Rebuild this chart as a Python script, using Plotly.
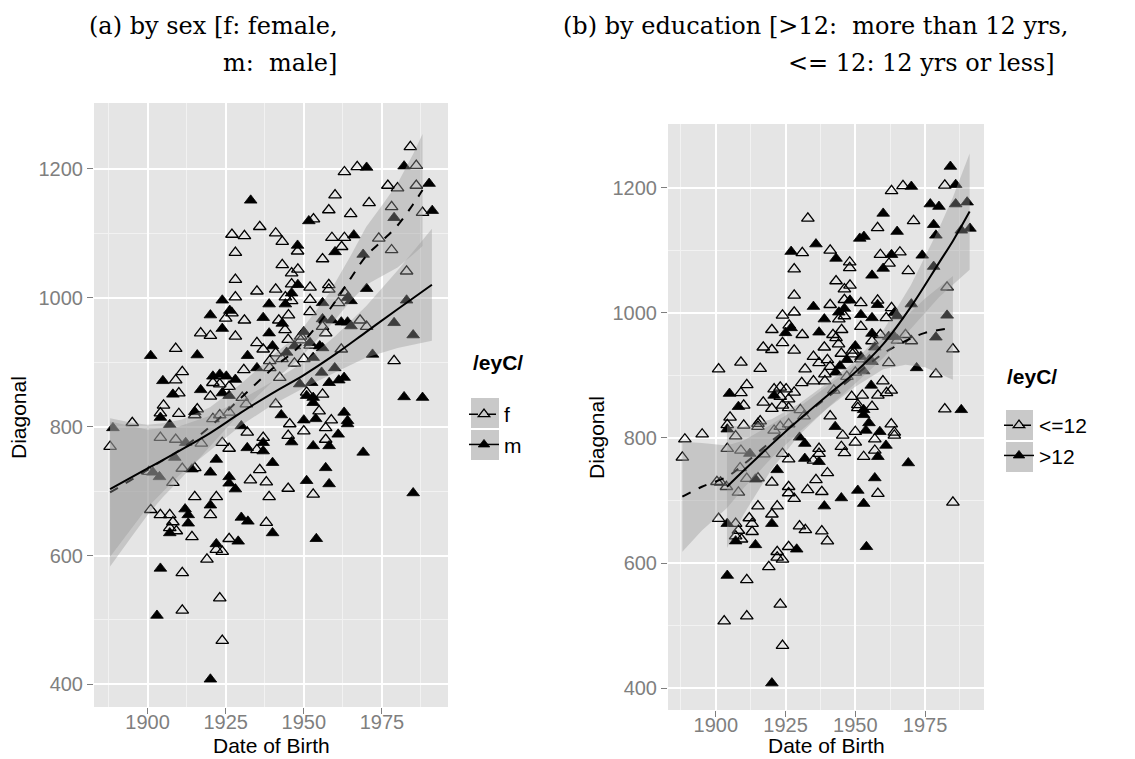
import plotly.graph_objects as go

# ---------------- data ----------------
birth_year = [1933.0,1935.9,1927.0,1931.0,1941.0,1943.1,1948.0,1948.0,1928.1,1943.1,1946.1,1948.1,1928.1,1946.1,1948.1,1935.0,1941.0,1923.9,1928.1,1944.1,
              1946.1,1946.1,1938.9,1944.1,1920.1,1926.3,1927.0,1925.0,1937.0,1931.0,1942.0,1943.1,1945.1,1923.9,1938.9,1917.0,1920.1,1928.1,1909.0,1951.6,
              1984.1,1982.1,1986.0,1963.0,1967.1,1970.1,1976.9,1980.0,1986.0,1990.1,1960.0,1970.9,1958.0,1965.0,1953.1,1978.1,1978.9,1988.0,1991.1,1959.0,
              1963.0,1966.0,1962.1,1960.0,1974.0,1978.1,1969.0,1956.0,1982.9,1952.0,1958.0,1958.0,1970.1,1952.0,1956.0,1961.1,1963.0,1965.1,1964.0,1982.9,
              1952.0,1956.0,1959.0,1962.0,1964.0,1968.0,1970.1,1965.1,1956.0,1957.0,1978.9,1985.0,1952.0,1956.0,1962.0,1952.0,1955.1,1972.0,1978.9,1953.0,
              1955.7,1959.9,1958.1,1961.2,1962.9,1952.5,1950.9,1956.0,1950.9,1953.0,1953.0,1982.1,1988.0,1954.9,1962.9,1953.8,1958.8,1964.0,1964.0,1950.0,
              1957.0,1950.0,1961.0,1957.0,1953.0,1958.1,1969.0,1957.0,1950.9,1958.1,1953.0,1985.0,1954.0,1901.0,1915.9,1930.8,1935.0,1939.1,1941.0,1944.5,
              1911.1,1909.0,1904.9,1920.9,1923.1,1925.2,1928.1,1920.9,1923.1,1926.1,1923.9,1926.1,1908.1,1910.0,1917.0,1920.1,1905.1,1904.1,1904.1,1910.0,
              1915.1,1915.9,1915.1,1907.1,1895.1,1888.9,1888.0,1904.1,1909.0,1912.2,1917.2,1923.9,1926.1,1930.0,1931.9,1931.9,1937.0,1937.0,1937.0,1935.0,
              1940.0,1935.9,1938.0,1932.9,1938.9,1945.0,1942.8,1945.5,1945.0,1946.1,1941.0,1938.0,1940.0,1926.1,1929.0,1930.0,1932.1,1922.0,1920.1,1926.1,
              1926.1,1928.1,1922.0,1920.1,1920.1,1914.2,1915.1,1911.1,1908.1,1915.1,1901.0,1904.1,1907.1,1912.0,1913.0,1913.0,1908.1,1907.1,1907.1,1909.2,
              1914.2,1922.0,1922.0,1923.9,1919.0,1904.1,1911.1,1903.0,1911.1,1923.1,1923.9,1920.1,1920.9,1923.1,1926.1,1930.3,1931.6,1901.7,1903.8,1908.7,
              1900.4,1939.1,1942.3,1948.7,1945.0,1947.0,1949.0,1944.0,1940.0,1943.0,1947.0,1950.0,1937.0,1932.0,1935.0,1949.0,1950.0]
diagonal = [1151,1110,1098,1096,1100,1087,1081,1072,1070,1051,1038,1044,1028,1021,1020,1010,1013,996,1001,1001,
            1007,995,990,990,973,980,976,968,969,965,965,960,973,952,945,945,941,940,921,1119,
            1234,1204,1205,1195,1203,1202,1174,1170,1174,1177,1159,1147,1136,1130,1122,1141,1124,1132,1135,1093,
            1093,1097,1079,1071,1092,1074,1067,1060,1041,1016,1020,1013,1014,997,992,992,1008,995,1000,996,
            978,967,965,962,962,965,955,956,955,945,961,942,930,922,920,926,925,912,902,907,
            884,891,868,872,876,868,853,850,848,845,837,846,845,824,822,812,810,809,804,810,
            798,793,788,780,770,770,760,736,716,711,695,697,626,910,911,888,891,891,914,915,
            885,872,871,878,881,878,873,868,866,862,852,848,850,852,857,847,833,821,814,820,
            823,827,818,803,806,798,769,783,780,775,774,775,766,801,791,767,783,775,762,764,
            744,733,714,717,691,704,818,804,786,776,835,651,635,626,622,659,653,749,729,722,
            712,703,691,678,663,734,736,735,713,691,671,663,663,672,663,650,652,643,635,638,
            629,618,609,606,594,580,573,507,515,534,468,408,812,818,822,845,835,729,722,752,
            730,902,876,866,935,925,940,950,925,905,898,905,920,910,930,934,947]
# f = female (open), m = male (filled)
sex = list("mfffffmfff" "ffffmffmff" "mfmmmmffmf" "fmfmmffffm"
           "fmfffmfffm" "ffffffmfmf" "fmfmffmfff" "ffmfmffmmm" "fmmmmffmff"
           "mmmmffmmfm" "mmmmmmffmm" "mmmfmmfmmm" "ffmfmmmmmm" "fmmmmfmffm"
           "ffmmmmmfff" "mmmfmfffmf" "mffmfmfffm" "fffmfmfmmf" "mfffffmffm"
           "ffmfmmm" "mmmmmfmfmf" "ffffffmmmf" "fmffmfffmf" "mfffmfffff"
           "mmmfffm" "fmffmffffmffm")
# L = 12 yrs or less (open), H = more than 12 yrs (filled)
educ = list("LHHLLHLLLL" "LLLLHHLLLH" "HLHLLLHHHL" "LLLLLLLLLH"
            "HLHLLHHHHH" "HLLHHHHHHL" "HLLHHHLHLL" "LHHHHLLHHH" "LHLHHLLLLH"
            "HLHHLLHHLH" "HLLLLLLLLH" "HLHHLHHLLL" "LLHLLHHHHL" "HLHLLLLLLH"
            "LLHLLLLHLL" "LLHLLLLLHL" "LLLLLLLLLH" "LLLHHHLLHL" "LLLLHHHLLL"
            "LLLLHLL" "HLLLLLLHHL" "LLLLHLLLLL" "LHLHLLLLHL" "LLLLHLLLLL"
            "LLLLLLL" "LHLLLHLLLLLLH")

# smooth fits (loess with 95% band)
# panel (a): by sex
fit_f_x  = [1888, 1895, 1900, 1905, 1911, 1920, 1930, 1940, 1948, 1958, 1965, 1970, 1975, 1980, 1985, 1988]
fit_f_y  = [698, 718, 733, 748, 766, 800, 845, 890, 922, 980, 1030, 1065, 1088, 1112, 1145, 1167]
fit_f_lo = [583, 630, 663, 691, 721, 770, 823, 870, 902, 954, 995, 1020, 1033, 1047, 1067, 1080]
fit_f_hi = [813, 806, 803, 805, 811, 830, 867, 910, 942, 1006, 1065, 1110, 1143, 1177, 1223, 1254]
fit_m_x  = [1888, 1900, 1910, 1920, 1930, 1940, 1950, 1960, 1970, 1980, 1991]
fit_m_y  = [703, 735, 762, 790, 822, 852, 880, 912, 947, 982, 1020]
fit_m_lo = [598, 675, 724, 763, 802, 834, 860, 884, 907, 922, 933]
fit_m_hi = [808, 795, 800, 817, 842, 870, 900, 940, 987, 1042, 1107]
# panel (b): by education
fit_L_x  = [1888, 1895, 1904, 1910, 1920, 1930, 1940, 1950, 1960, 1968, 1975, 1985]
fit_L_y  = [706, 722, 738, 758, 795, 830, 865, 900, 935, 955, 968, 976]
fit_L_lo = [618, 652, 688, 720, 768, 810, 847, 882, 910, 917, 913, 893]
fit_L_hi = [794, 792, 788, 796, 822, 850, 883, 918, 960, 993, 1023, 1059]
fit_H_x  = [1904, 1910, 1920, 1930, 1940, 1950, 1960, 1970, 1980, 1985, 1991]
fit_H_y  = [722, 748, 790, 830, 868, 905, 950, 1010, 1080, 1115, 1162]
fit_H_lo = [624, 678, 750, 805, 848, 887, 928, 975, 1025, 1045, 1069]
fit_H_hi = [820, 818, 830, 855, 888, 923, 972, 1045, 1135, 1185, 1255]

x_ticks = [1900, 1925, 1950, 1975]
x_minor = [1887.5, 1912.5, 1937.5, 1962.5, 1987.5]
y_ticks = [400, 600, 800, 1000, 1200]
y_minor = [500, 700, 900, 1100]

# ---------------- figure ----------------
n = len(birth_year)
fig = go.Figure()
RIB = "rgba(153,153,153,0.4)"
OPEN = dict(symbol="triangle-up-open", size=11, color="black", line=dict(color="black", width=1.3))
FILL = dict(symbol="triangle-up", size=11, color="black", line=dict(color="black", width=0.8))


def add_points(groups, keys, xa, ya):
    for key, mk in keys:
        idx = [i for i in range(n) if groups[i] == key]
        fig.add_trace(go.Scatter(x=[birth_year[i] for i in idx], y=[diagonal[i] for i in idx],
                                 mode="markers", marker=mk, xaxis=xa, yaxis=ya,
                                 showlegend=False, hoverinfo="skip"))


def add_smooth(fx, fy, lo, hi, dash, xa, ya):
    fig.add_trace(go.Scatter(x=fx + fx[::-1], y=hi + lo[::-1], fill="toself", fillcolor=RIB,
                             line=dict(width=0), mode="lines", xaxis=xa, yaxis=ya,
                             showlegend=False, hoverinfo="skip"))
    fig.add_trace(go.Scatter(x=fx, y=fy, mode="lines", line=dict(color="black", width=2, dash=dash),
                             line_shape="spline", xaxis=xa, yaxis=ya, showlegend=False, hoverinfo="skip"))


add_points(sex, [("f", OPEN), ("m", FILL)], "x", "y")
add_smooth(fit_f_x, fit_f_y, fit_f_lo, fit_f_hi, "dash", "x", "y")
add_smooth(fit_m_x, fit_m_y, fit_m_lo, fit_m_hi, "solid", "x", "y")
add_points(educ, [("L", OPEN), ("H", FILL)], "x2", "y2")
add_smooth(fit_L_x, fit_L_y, fit_L_lo, fit_L_hi, "dash", "x2", "y2")
add_smooth(fit_H_x, fit_H_y, fit_H_lo, fit_H_hi, "solid", "x2", "y2")

# legend entries
for name, mk, dash, lg in [("f", OPEN, "dash", "legend"), ("m", FILL, "solid", "legend"),
                           ("<=12", OPEN, "dash", "legend2"), (">12", FILL, "solid", "legend2")]:
    fig.add_trace(go.Scatter(x=[None], y=[None], mode="lines+markers", name=name,
                             marker=dict(mk, size=10), line=dict(color="black", width=1.5, dash=dash),
                             legend=lg, showlegend=True, xaxis="x", yaxis="y"))

W, H = 1135, 759
TICKFONT = dict(family="Liberation Sans, Arial, sans-serif", size=20, color="#7F7F7F")


def xax(domain, anchor):
    return dict(domain=domain, anchor=anchor, range=[1882.85, 1996.15], tickvals=x_ticks,
                showgrid=True, gridcolor="white", gridwidth=1.6, zeroline=False,
                ticks="outside", ticklen=6, tickcolor="#7F7F7F", tickwidth=1.2, tickfont=TICKFONT,
                ticklabelstandoff=-9,
                minor=dict(tickvals=x_minor, showgrid=True, gridcolor="#F2F2F2", gridwidth=0.8, ticks=""),
                showline=False, fixedrange=True)


def yax(domain, anchor):
    return dict(domain=domain, anchor=anchor, range=[365, 1302], tickvals=y_ticks,
                showgrid=True, gridcolor="white", gridwidth=1.6, zeroline=False,
                ticks="outside", ticklen=6, tickcolor="#7F7F7F", tickwidth=1.2, tickfont=TICKFONT,
                minor=dict(tickvals=y_minor, showgrid=True, gridcolor="#F2F2F2", gridwidth=0.8, ticks=""),
                showline=False, fixedrange=True)


def px_x(p):
    return p / W


def px_y(p):
    return 1 - p / H


LEGFONT = dict(family="Liberation Sans, Arial, sans-serif", size=21, color="black")
fig.update_layout(
    width=W, height=H, margin=dict(l=0, r=0, t=0, b=0),
    paper_bgcolor="white", plot_bgcolor="#E5E5E5",
    xaxis=xax([px_x(94), px_x(448)], "y"),
    yaxis=yax([px_y(707), px_y(103)], "x"),
    xaxis2=xax([px_x(668), px_x(984)], "y2"),
    yaxis2=yax([px_y(710), px_y(124)], "x2"),
    legend=dict(x=px_x(464), y=px_y(394), xanchor="left", yanchor="top", bgcolor="rgba(0,0,0,0)",
                font=LEGFONT, tracegroupgap=0, itemclick=False),
    legend2=dict(x=px_x(999), y=px_y(405), xanchor="left", yanchor="top", bgcolor="rgba(0,0,0,0)",
                 font=LEGFONT, tracegroupgap=0, itemclick=False),
)

SERIF = dict(family="DejaVu Serif, serif", size=24, color="black")
SANS = dict(family="Liberation Sans, Arial, sans-serif", size=21, color="black")
ann = [
    dict(text="(a) by sex [f: female,", x=px_x(87), y=px_y(26), xanchor="left", font=SERIF),
    dict(text="m:  male]", x=px_x(221), y=px_y(63), xanchor="left", font=SERIF),
    dict(text="(b) by education [>12:  more than 12 yrs,", x=px_x(561), y=px_y(26), xanchor="left", font=SERIF),
    dict(text="<= 12: 12 yrs or less]", x=px_x(786), y=px_y(63), xanchor="left", font=SERIF),
    dict(text="Diagonal", x=px_x(18), y=px_y(418), textangle=-90, font=SANS),
    dict(text="Diagonal", x=px_x(596), y=px_y(438), textangle=-90, font=SANS),
    dict(text="Date of Birth", x=px_x(271), y=px_y(745), font=SANS),
    dict(text="Date of Birth", x=px_x(826), y=px_y(745), font=SANS),
    dict(text="<b>/eyC/</b>", x=px_x(471), y=px_y(362), xanchor="left", font=SANS),
    dict(text="<b>/eyC/</b>", x=px_x(1005), y=px_y(377), xanchor="left", font=SANS),
]
for a in ann:
    a.setdefault("xanchor", "center")
    a.update(xref="paper", yref="paper", yanchor="middle", showarrow=False)
fig.update_layout(annotations=ann)

# grey key backgrounds of the legends
shapes = []
for (x0, x1, y0, y1) in [(471, 499, 398, 428), (471, 499, 430, 460), (1006, 1033, 410, 440), (1006, 1033, 442, 472)]:
    shapes.append(dict(type="rect", xref="paper", yref="paper", x0=px_x(x0), x1=px_x(x1),
                       y0=px_y(y1), y1=px_y(y0), fillcolor="#C9C9C9", line=dict(width=0), layer="below"))
fig.update_layout(shapes=shapes)

fig.write_html("out.html", config={"displayModeBar": False},
               post_script="document.body.style.margin='0px';")
